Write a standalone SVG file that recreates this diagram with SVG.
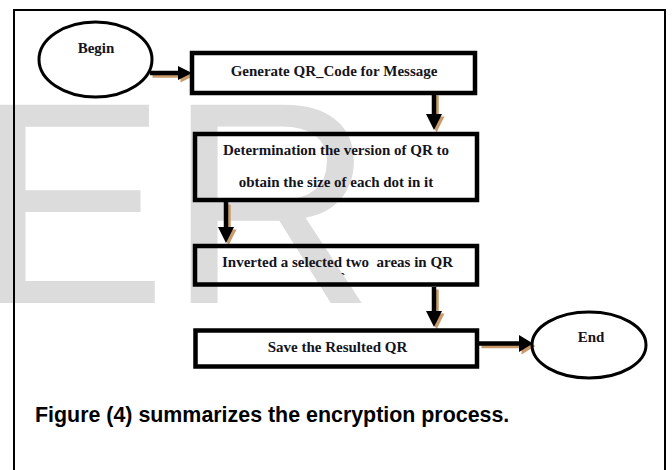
<svg xmlns="http://www.w3.org/2000/svg" width="672" height="470" viewBox="0 0 672 470">
<defs>
<style>
.box{fill:none;stroke:#000;stroke-width:4.5}
.ell{fill:none;stroke:#000;stroke-width:3}
.t{font-family:"Liberation Serif","Times New Roman",serif;font-weight:bold;font-size:15px;fill:#141420;text-anchor:middle}
.shaft{stroke:#000;stroke-width:4.5;fill:none}
.shadow .shaft{stroke:#c99a6c}
.head{fill:#000}
.shadow .head{fill:#c99a6c}
.cap{font-family:"Liberation Sans",Arial,sans-serif;font-weight:bold;font-size:21.4px;fill:#000}
</style>
</defs>
<rect x="0" y="0" width="672" height="470" fill="#fff"/>
<text x="-25" y="303" font-family="Liberation Sans, Arial, sans-serif" font-size="288" fill="#dcdcdc">ER</text>
<rect x="14" y="10" width="651" height="480" fill="none" stroke="#000" stroke-width="2"/>

<g id="connectors">
  <g class="shadow" transform="translate(2.5,2.5)">
    <line class="shaft" x1="150" y1="73" x2="180" y2="73"/>
    <polygon class="head" points="178,66 192,73 178,80"/>
    <line class="shaft" x1="434" y1="93" x2="434" y2="116"/>
    <polygon class="head" points="426,114 442,114 434,130"/>
    <line class="shaft" x1="226" y1="202" x2="226" y2="229"/>
    <polygon class="head" points="218,227 234,227 226,243"/>
    <line class="shaft" x1="434" y1="287" x2="434" y2="313"/>
    <polygon class="head" points="426,311 442,311 434,327"/>
    <line class="shaft" x1="479" y1="343.5" x2="521" y2="343.5"/>
    <polygon class="head" points="519,335 533,343.5 519,352"/>
  </g>
  <g>
    <line class="shaft" x1="150" y1="73" x2="180" y2="73"/>
    <polygon class="head" points="178,66 192,73 178,80"/>
    <line class="shaft" x1="434" y1="93" x2="434" y2="116"/>
    <polygon class="head" points="426,114 442,114 434,130"/>
    <line class="shaft" x1="226" y1="202" x2="226" y2="229"/>
    <polygon class="head" points="218,227 234,227 226,243"/>
    <line class="shaft" x1="434" y1="287" x2="434" y2="313"/>
    <polygon class="head" points="426,311 442,311 434,327"/>
    <line class="shaft" x1="479" y1="343.5" x2="521" y2="343.5"/>
    <polygon class="head" points="519,335 533,343.5 519,352"/>
  </g>
</g>

<g id="begin">
  <ellipse class="ell" cx="95.5" cy="59.5" rx="56.5" ry="37.5"/>
  <text class="t" x="96" y="53">Begin</text>
</g>
<g id="generate">
  <rect class="box" x="192" y="53" width="283" height="40"/>
  <text class="t" x="334" y="76">Generate QR_Code for Message</text>
</g>
<g id="determination">
  <rect class="box" x="195" y="134" width="282" height="66"/>
  <text class="t" x="336" y="155">Determination the version of QR to</text>
  <text class="t" x="336" y="187">obtain the size of each dot in it</text>
</g>
<g id="inverted">
  <rect class="box" x="195" y="246" width="282" height="38.5"/>
  <text class="t" x="337.5" y="267" xml:space="preserve">Inverted a selected two  areas in QR</text>
  <text class="t" x="343" y="283" font-size="10">`</text>
</g>
<g id="save">
  <rect class="box" x="195.5" y="330.5" width="281.5" height="36"/>
  <text class="t" x="337.5" y="352">Save the Resulted QR</text>
</g>
<g id="end">
  <ellipse class="ell" cx="589" cy="345" rx="57" ry="33"/>
  <text class="t" x="591" y="342">End</text>
</g>
<text class="cap" x="35" y="422">Figure (4) summarizes the encryption process.</text>
</svg>
